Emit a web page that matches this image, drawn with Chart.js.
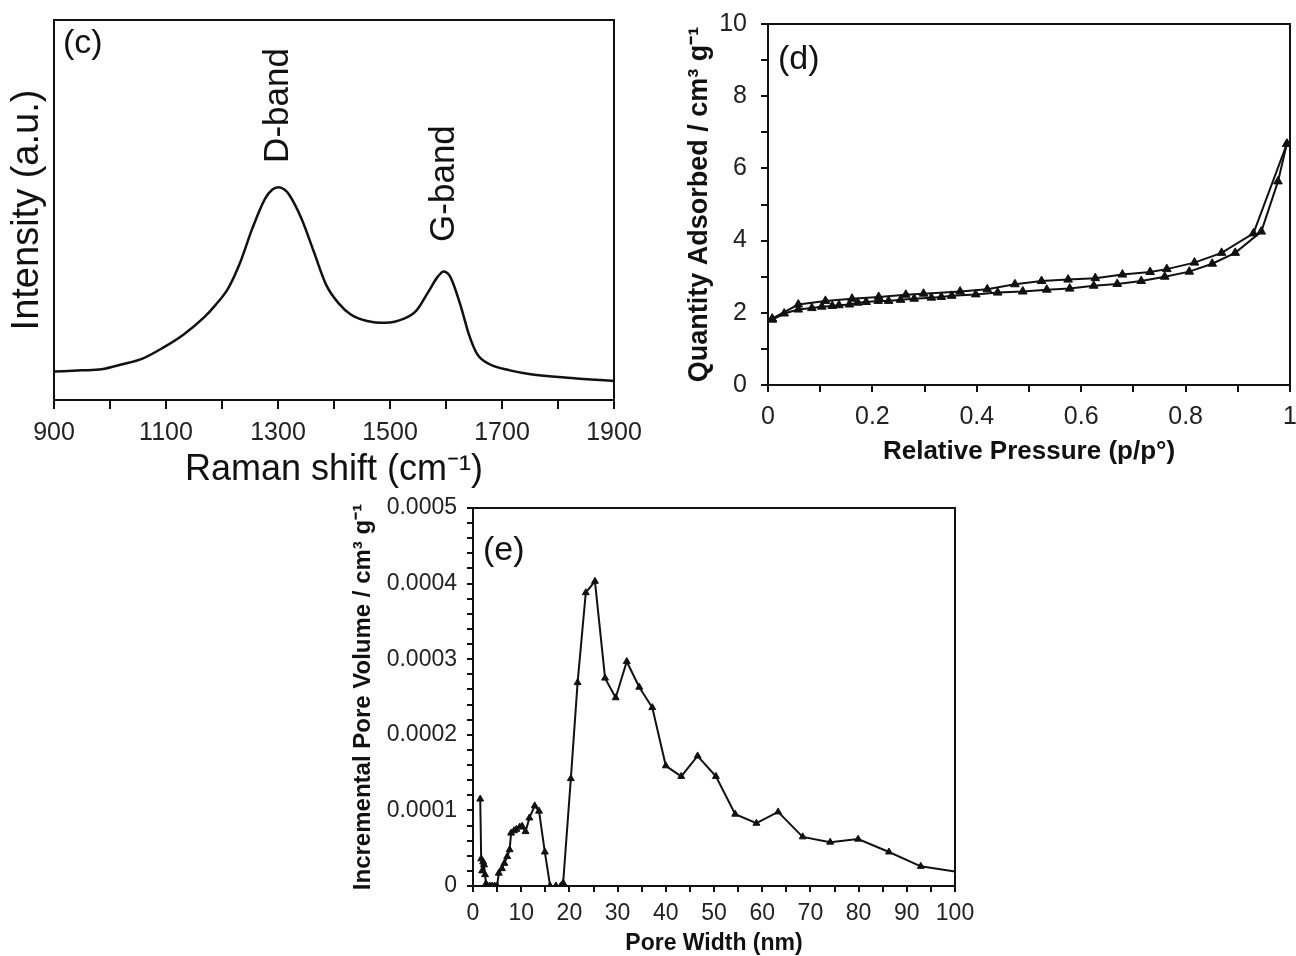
<!DOCTYPE html>
<html>
<head>
<meta charset="utf-8">
<script src="https://cdn.jsdelivr.net/npm/chart.js@4.4.1/dist/chart.umd.min.js"></script>
<style>
  body { margin: 0; background: #fff; }
  #page { position: relative; width: 1296px; height: 956px; overflow: hidden; }
  canvas { position: absolute; }
</style>
</head>
<body>
<div id="page">
  <canvas id="ramanChart" width="670" height="500" style="left:0;top:0"></canvas>
  <canvas id="isoChart" width="616" height="480" style="left:680px;top:0"></canvas>
  <canvas id="poreChart" width="640" height="476" style="left:340px;top:480px"></canvas>
</div>
<script>
// (c) Raman spectrum
const ramanShift = [900, 950, 985, 1022, 1058, 1095, 1131, 1167, 1189, 1211, 1233, 1254, 1277, 1290, 1301, 1312, 1320, 1342, 1364, 1386, 1408, 1430, 1459, 1492, 1525, 1547, 1569, 1585, 1596, 1605, 1612, 1627, 1641, 1656, 1678, 1714, 1751, 1824, 1900];
const ramanIntensity = [7.5, 7.8, 8.1, 9.4, 10.9, 13.8, 17.2, 21.6, 25.1, 29.4, 36.4, 45.1, 53.0, 55.4, 56.0, 55.3, 54.0, 47.7, 39.0, 30.3, 25.5, 22.5, 20.8, 20.3, 21.4, 23.5, 28.6, 32.4, 33.8, 33.0, 31.0, 24.4, 17.2, 12.0, 9.4, 7.8, 6.8, 5.8, 5.0];
const bandNames = ["D-band", "G-band"];
const bandPos = [1301, 1597];
const bandLabelBase = [62.4, 41.6];

// (d) N2 isotherm
const adsP = [0.0085, 0.031, 0.058, 0.084, 0.103, 0.123, 0.136, 0.156, 0.172, 0.188, 0.211, 0.231, 0.254, 0.280, 0.313, 0.332, 0.352, 0.398, 0.440, 0.488, 0.534, 0.578, 0.624, 0.669, 0.715, 0.760, 0.807, 0.851, 0.895, 0.945, 0.977, 0.994];
const adsQ = [1.81, 1.98, 2.09, 2.13, 2.17, 2.19, 2.21, 2.23, 2.28, 2.30, 2.33, 2.33, 2.36, 2.39, 2.42, 2.44, 2.47, 2.51, 2.56, 2.59, 2.64, 2.67, 2.75, 2.80, 2.88, 3.00, 3.14, 3.36, 3.66, 4.25, 5.64, 6.68];
const desP = [0.994, 0.930, 0.869, 0.817, 0.764, 0.732, 0.679, 0.627, 0.575, 0.524, 0.473, 0.420, 0.368, 0.298, 0.264, 0.212, 0.161, 0.110, 0.058, 0.008];
const desQ = [6.68, 4.20, 3.66, 3.39, 3.21, 3.13, 3.06, 2.96, 2.92, 2.88, 2.79, 2.65, 2.59, 2.53, 2.50, 2.44, 2.39, 2.33, 2.23, 1.84];

// (e) pore size distribution
const poreWidth = [1.5, 1.7, 1.9, 2.1, 2.3, 2.5, 2.7, 3.0, 3.5, 4.0, 4.5, 5.0, 5.35, 6.0, 6.5, 7.1, 7.6, 7.9, 8.5, 9.0, 9.7, 10.2, 10.9, 11.7, 12.8, 13.7, 14.9, 16.0, 17.2, 18.2, 18.7, 20.3, 21.7, 23.4, 25.3, 27.4, 29.6, 31.9, 34.5, 37.2, 40.0, 43.2, 46.6, 50.4, 54.4, 58.8, 63.3, 68.4, 74.1, 79.9, 86.3, 92.9, 100];
const poreVolume = [0.000115, 0.000036, 0.000020, 0.000032, 0.000028, 0.000015, 0.000003, 0, 0, 0, 0, 0, 0.000017, 0.000023, 0.000030, 0.000039, 0.000048, 0.000070, 0.000073, 0.000075, 0.000078, 0.000079, 0.000072, 0.000090, 0.000106, 0.000099, 0.000045, 0, 0, 0, 0.000004, 0.000142, 0.000269, 0.000388, 0.000403, 0.000275, 0.000249, 0.000297, 0.000263, 0.000236, 0.000159, 0.000145, 0.000172, 0.000145, 0.000095, 0.000083, 0.000098, 0.000065, 0.000058, 0.000062, 0.000045, 0.000026, 0.000019];

const FONT = "'Liberation Sans', Arial, sans-serif";
const INK = "#111";
Chart.defaults.font.family = FONT;
Chart.defaults.color = INK;

const toXY = (xs, ys) => xs.map((x, i) => ({ x, y: ys[i] }));

// fixed axis size, and no extra room for overhanging tick labels
const fixSize = (w, h) => (s) => {
  if (w) s.width = w;
  if (h) s.height = h;
  s.paddingLeft = s.paddingRight = s.paddingTop = s.paddingBottom = 0;
};

/* box around the plot + panel letter */
const framePlugin = {
  id: "frame",
  afterDraw(chart, args, opts) {
    const { ctx, chartArea: a } = chart;
    ctx.save();
    ctx.strokeStyle = INK;
    ctx.lineWidth = 2;
    ctx.strokeRect(a.left, a.top, a.right - a.left, a.bottom - a.top);
    ctx.font = "34px " + FONT;
    ctx.fillStyle = INK;
    ctx.textBaseline = "middle";
    ctx.fillText(opts.tag, a.left + opts.dx, a.top + opts.dy);
    ctx.restore();
  },
};

/* rotated D/G band labels */
const bandPlugin = {
  id: "bands",
  afterDraw(chart) {
    const { ctx, scales } = chart;
    ctx.save();
    ctx.font = "35px " + FONT;
    ctx.fillStyle = INK;
    ctx.textBaseline = "middle";
    ctx.textAlign = "left";
    bandNames.forEach((name, i) => {
      ctx.save();
      ctx.translate(scales.x.getPixelForValue(bandPos[i]), scales.y.getPixelForValue(bandLabelBase[i]));
      ctx.rotate(-Math.PI / 2);
      ctx.fillText(name, 0, 0);
      ctx.restore();
    });
    ctx.restore();
  },
};

const noUi = { legend: { display: false }, tooltip: { enabled: false } };

// ---- (c)
new Chart(document.getElementById("ramanChart"), {
  type: "line",
  data: {
    datasets: [{
      data: toXY(ramanShift, ramanIntensity),
      borderColor: INK,
      borderWidth: 2.5,
      pointRadius: 0,
      cubicInterpolationMode: "monotone",
    }],
  },
  options: {
    responsive: false,
    animation: false,
    layout: { padding: { top: 20, right: 56, bottom: 0, left: 0 } },
    plugins: { ...noUi, frame: { tag: "(c)", dx: 9, dy: 24 } },
    scales: {
      x: {
        type: "linear", min: 900, max: 1900,
        ticks: {
          stepSize: 100, autoSkip: false, maxRotation: 0, padding: 9,
          font: { size: 25 }, color: "#222",
          callback: (v) => ((v - 900) % 200 === 0 ? v : ""),
        },
        grid: { drawOnChartArea: false, tickLength: 9, color: INK, lineWidth: 2 },
        border: { color: INK, width: 2 },
        title: { display: true, text: "Raman shift (cm⁻¹)", font: { size: 36, lineHeight: 1 }, padding: { top: 0, bottom: 12 } },
        afterFit: fixSize(0, 100),
      },
      y: {
        min: 0, max: 100,
        ticks: { display: false },
        grid: { display: false },
        border: { color: INK, width: 2 },
        title: { display: true, text: "Intensity (a.u.)", font: { size: 38, lineHeight: 1 }, padding: { top: 9, bottom: 0 } },
        afterFit: fixSize(54, 0),
      },
    },
  },
  plugins: [framePlugin, bandPlugin],
});

// ---- (d)
const isoLine = { borderColor: INK, backgroundColor: INK, borderWidth: 2, pointStyle: "triangle", pointRadius: 5, pointBorderWidth: 1 };
new Chart(document.getElementById("isoChart"), {
  type: "line",
  data: {
    datasets: [
      { label: "Adsorption", data: toXY(adsP, adsQ), ...isoLine },
      { label: "Desorption", data: toXY(desP, desQ), ...isoLine },
    ],
  },
  options: {
    responsive: false,
    animation: false,
    layout: { padding: { top: 24, right: 6, bottom: 0, left: 0 } },
    plugins: { ...noUi, frame: { tag: "(d)", dx: 10, dy: 36 } },
    scales: {
      x: {
        type: "linear", min: 0, max: 1,
        ticks: {
          stepSize: 0.1, autoSkip: false, maxRotation: 0, padding: 10,
          font: { size: 25 }, color: "#222",
          callback: (v) => {
            const i = Math.round(v * 10);
            if (i % 2) return "";
            return i === 0 ? "0" : i === 10 ? "1" : (i / 10).toFixed(1);
          },
        },
        grid: { drawOnChartArea: false, tickLength: 7, color: INK, lineWidth: 2 },
        border: { color: INK, width: 2 },
        title: { display: true, text: "Relative Pressure (p/p°)", font: { size: 26, weight: "bold", lineHeight: 1 }, padding: { top: 0, bottom: 15 } },
        afterFit: fixSize(0, 95),
      },
      y: {
        min: 0, max: 10,
        ticks: {
          stepSize: 1, autoSkip: false, padding: 14,
          font: { size: 25 }, color: "#222",
          callback: (v) => (v % 2 === 0 ? v : ""),
        },
        grid: { drawOnChartArea: false, tickLength: 7, color: INK, lineWidth: 2 },
        border: { color: INK, width: 2 },
        title: { display: true, text: "Quantity Adsorbed / cm³ g⁻¹", font: { size: 27, weight: "bold", lineHeight: 1 }, padding: { top: 6, bottom: 0 } },
        afterFit: fixSize(88, 0),
      },
    },
  },
  plugins: [framePlugin],
});

// ---- (e)
new Chart(document.getElementById("poreChart"), {
  type: "line",
  data: {
    datasets: [{
      data: toXY(poreWidth, poreVolume),
      borderColor: INK,
      backgroundColor: INK,
      borderWidth: 2,
      pointStyle: "triangle",
      pointRadius: poreWidth.map((w) => (w >= 100 ? 0 : 4)),
      pointBorderWidth: 1,
    }],
  },
  options: {
    responsive: false,
    animation: false,
    layout: { padding: { top: 28, right: 25, bottom: 0, left: 0 } },
    plugins: { ...noUi, frame: { tag: "(e)", dx: 10, dy: 43 } },
    scales: {
      x: {
        type: "linear", min: 0, max: 100,
        ticks: {
          stepSize: 5, autoSkip: false, maxRotation: 0, padding: 8,
          font: { size: 23 }, color: "#222",
          callback: (v) => (v % 10 === 0 ? v : ""),
        },
        grid: { drawOnChartArea: false, tickLength: 6, color: INK, lineWidth: 2 },
        border: { color: INK, width: 2 },
        title: { display: true, text: "Pore Width (nm)", font: { size: 23, weight: "bold", lineHeight: 1 }, padding: { top: 0, bottom: 1 } },
        afterFit: fixSize(0, 70),
      },
      y: {
        min: 0, max: 0.0005,
        ticks: {
          stepSize: 0.00002, autoSkip: false, padding: 10,
          font: { size: 23 }, color: "#222",
          callback: (v) => {
            const i = Math.round(v / 0.00002);
            if (i % 5) return "";
            return i === 0 ? "0" : (i * 0.00002).toFixed(4);
          },
        },
        grid: { drawOnChartArea: false, tickLength: 6, color: INK, lineWidth: 2 },
        border: { color: INK, width: 2 },
        title: { display: true, text: "Incremental Pore Volume / cm³ g⁻¹", font: { size: 24, weight: "bold", lineHeight: 1 }, padding: { top: 11, bottom: 0 } },
        afterFit: fixSize(133, 0),
      },
    },
  },
  plugins: [framePlugin],
});
</script>
</body>
</html>
